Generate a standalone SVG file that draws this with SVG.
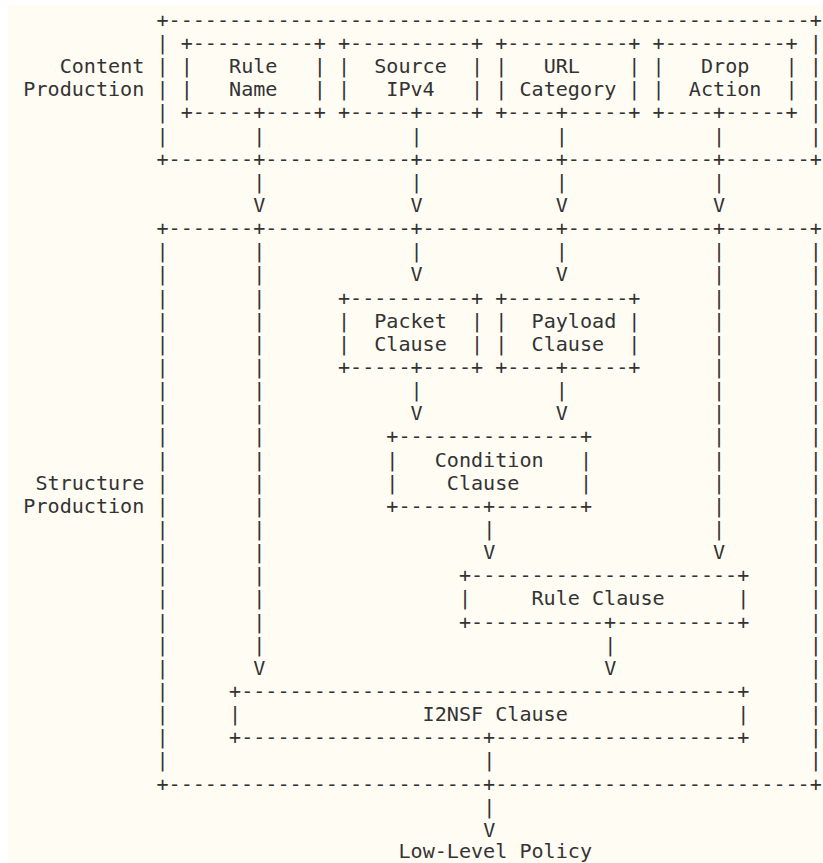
<svg xmlns="http://www.w3.org/2000/svg" width="823" height="863" viewBox="0 0 823 863" xml:space="preserve">
  <style>
    .t { font-family: "DejaVu Sans Mono", monospace; font-size: 20.1px; fill: #333333; white-space: pre; }
  </style>
  <!-- page background -->
  <rect x="0" y="0" width="823" height="863" fill="#ffffff"/>
  <rect x="8" y="5" width="815" height="858" fill="#fffcf4"/>

  <!-- Content production frame -->
  <g id="content-production">
    <text class="t" x="59.65" y="73.18">Content</text>
    <text class="t" x="23.35" y="96.32">Production</text>
    <text class="t" x="156.45" y="26.9">+-----------------------------------------------------+</text>
    <text class="t" x="156.45" y="165.74">+-------+------------+-----------+------------+-------+</text>
    <text class="t"><tspan x="156.45" y="50.04">|</tspan><tspan x="156.45" y="73.18">|</tspan><tspan x="156.45" y="96.32">|</tspan><tspan x="156.45" y="119.46">|</tspan><tspan x="156.45" y="142.6">|</tspan></text>
    <text class="t"><tspan x="809.85" y="50.04">|</tspan><tspan x="809.85" y="73.18">|</tspan><tspan x="809.85" y="96.32">|</tspan><tspan x="809.85" y="119.46">|</tspan><tspan x="809.85" y="142.6">|</tspan></text>
  </g>

  <g id="rule-name">
    <text class="t" x="180.65" y="50.04">+----------+</text>
    <text class="t" x="180.65" y="73.18">|   Rule   |</text>
    <text class="t" x="180.65" y="96.32">|   Name   |</text>
    <text class="t" x="180.65" y="119.46">+-----+----+</text>
  </g>

  <g id="source-ipv4">
    <text class="t" x="337.95" y="50.04">+----------+</text>
    <text class="t" x="337.95" y="73.18">|  Source  |</text>
    <text class="t" x="337.95" y="96.32">|   IPv4   |</text>
    <text class="t" x="337.95" y="119.46">+-----+----+</text>
  </g>

  <g id="url-category">
    <text class="t" x="495.25" y="50.04">+----------+</text>
    <text class="t" x="495.25" y="73.18">|   URL    |</text>
    <text class="t" x="495.25" y="96.32">| Category |</text>
    <text class="t" x="495.25" y="119.46">+----+-----+</text>
  </g>

  <g id="drop-action">
    <text class="t" x="652.55" y="50.04">+----------+</text>
    <text class="t" x="652.55" y="73.18">|   Drop   |</text>
    <text class="t" x="652.55" y="96.32">|  Action  |</text>
    <text class="t" x="652.55" y="119.46">+----+-----+</text>
  </g>

  <!-- Structure production frame -->
  <g id="structure-production">
    <text class="t" x="35.45" y="489.7">Structure</text>
    <text class="t" x="23.35" y="512.84">Production</text>
    <text class="t" x="156.45" y="235.16">+-------+------------+-----------+------------+-------+</text>
    <text class="t" x="156.45" y="790.52">+--------------------------+--------------------------+</text>
    <text class="t"><tspan x="156.45" y="258.3">|</tspan><tspan x="156.45" y="281.44">|</tspan><tspan x="156.45" y="304.58">|</tspan><tspan x="156.45" y="327.72">|</tspan><tspan x="156.45" y="350.86">|</tspan><tspan x="156.45" y="374">|</tspan><tspan x="156.45" y="397.14">|</tspan><tspan x="156.45" y="420.28">|</tspan><tspan x="156.45" y="443.42">|</tspan><tspan x="156.45" y="466.56">|</tspan><tspan x="156.45" y="489.7">|</tspan><tspan x="156.45" y="512.84">|</tspan><tspan x="156.45" y="535.98">|</tspan><tspan x="156.45" y="559.12">|</tspan><tspan x="156.45" y="582.26">|</tspan><tspan x="156.45" y="605.4">|</tspan><tspan x="156.45" y="628.54">|</tspan><tspan x="156.45" y="651.68">|</tspan><tspan x="156.45" y="674.82">|</tspan><tspan x="156.45" y="697.96">|</tspan><tspan x="156.45" y="721.1">|</tspan><tspan x="156.45" y="744.24">|</tspan><tspan x="156.45" y="767.38">|</tspan></text>
    <text class="t"><tspan x="809.85" y="258.3">|</tspan><tspan x="809.85" y="281.44">|</tspan><tspan x="809.85" y="304.58">|</tspan><tspan x="809.85" y="327.72">|</tspan><tspan x="809.85" y="350.86">|</tspan><tspan x="809.85" y="374">|</tspan><tspan x="809.85" y="397.14">|</tspan><tspan x="809.85" y="420.28">|</tspan><tspan x="809.85" y="443.42">|</tspan><tspan x="809.85" y="466.56">|</tspan><tspan x="809.85" y="489.7">|</tspan><tspan x="809.85" y="512.84">|</tspan><tspan x="809.85" y="535.98">|</tspan><tspan x="809.85" y="559.12">|</tspan><tspan x="809.85" y="582.26">|</tspan><tspan x="809.85" y="605.4">|</tspan><tspan x="809.85" y="628.54">|</tspan><tspan x="809.85" y="651.68">|</tspan><tspan x="809.85" y="674.82">|</tspan><tspan x="809.85" y="697.96">|</tspan><tspan x="809.85" y="721.1">|</tspan><tspan x="809.85" y="744.24">|</tspan><tspan x="809.85" y="767.38">|</tspan></text>
  </g>

  <g id="packet-clause">
    <text class="t" x="337.95" y="304.58">+----------+</text>
    <text class="t" x="337.95" y="327.72">|  Packet  |</text>
    <text class="t" x="337.95" y="350.86">|  Clause  |</text>
    <text class="t" x="337.95" y="374">+-----+----+</text>
  </g>

  <g id="payload-clause">
    <text class="t" x="495.25" y="304.58">+----------+</text>
    <text class="t" x="495.25" y="327.72">|  Payload |</text>
    <text class="t" x="495.25" y="350.86">|  Clause  |</text>
    <text class="t" x="495.25" y="374">+----+-----+</text>
  </g>

  <g id="condition-clause">
    <text class="t" x="386.35" y="443.42">+---------------+</text>
    <text class="t" x="386.35" y="466.56">|   Condition   |</text>
    <text class="t" x="386.35" y="489.7">|    Clause     |</text>
    <text class="t" x="386.35" y="512.84">+-------+-------+</text>
  </g>

  <g id="rule-clause">
    <text class="t" x="458.95" y="582.26">+----------------------+</text>
    <text class="t" x="458.95" y="605.4">|     Rule Clause      |</text>
    <text class="t" x="458.95" y="628.54">+-----------+----------+</text>
  </g>

  <g id="i2nsf-clause">
    <text class="t" x="229.05" y="697.96">+-----------------------------------------+</text>
    <text class="t" x="229.05" y="721.1">|               I2NSF Clause              |</text>
    <text class="t" x="229.05" y="744.24">+--------------------+--------------------+</text>
  </g>

  <g id="low-level-policy">
    <text class="t" x="398.45" y="857.6">Low-Level Policy</text>
  </g>

  <!-- flow lines with arrow heads -->
  <g id="connectors">
    <text class="t"><tspan x="253.25" y="142.6">|</tspan><tspan x="253.25" y="188.88">|</tspan><tspan x="253.25" y="212.02">V</tspan><tspan x="253.25" y="258.3">|</tspan><tspan x="253.25" y="281.44">|</tspan><tspan x="253.25" y="304.58">|</tspan><tspan x="253.25" y="327.72">|</tspan><tspan x="253.25" y="350.86">|</tspan><tspan x="253.25" y="374">|</tspan><tspan x="253.25" y="397.14">|</tspan><tspan x="253.25" y="420.28">|</tspan><tspan x="253.25" y="443.42">|</tspan><tspan x="253.25" y="466.56">|</tspan><tspan x="253.25" y="489.7">|</tspan><tspan x="253.25" y="512.84">|</tspan><tspan x="253.25" y="535.98">|</tspan><tspan x="253.25" y="559.12">|</tspan><tspan x="253.25" y="582.26">|</tspan><tspan x="253.25" y="605.4">|</tspan><tspan x="253.25" y="628.54">|</tspan><tspan x="253.25" y="651.68">|</tspan><tspan x="253.25" y="674.82">V</tspan></text>
    <text class="t"><tspan x="410.55" y="142.6">|</tspan><tspan x="410.55" y="188.88">|</tspan><tspan x="410.55" y="212.02">V</tspan><tspan x="410.55" y="258.3">|</tspan><tspan x="410.55" y="281.44">V</tspan></text>
    <text class="t"><tspan x="555.75" y="142.6">|</tspan><tspan x="555.75" y="188.88">|</tspan><tspan x="555.75" y="212.02">V</tspan><tspan x="555.75" y="258.3">|</tspan><tspan x="555.75" y="281.44">V</tspan></text>
    <text class="t"><tspan x="713.05" y="142.6">|</tspan><tspan x="713.05" y="188.88">|</tspan><tspan x="713.05" y="212.02">V</tspan><tspan x="713.05" y="258.3">|</tspan><tspan x="713.05" y="281.44">|</tspan><tspan x="713.05" y="304.58">|</tspan><tspan x="713.05" y="327.72">|</tspan><tspan x="713.05" y="350.86">|</tspan><tspan x="713.05" y="374">|</tspan><tspan x="713.05" y="397.14">|</tspan><tspan x="713.05" y="420.28">|</tspan><tspan x="713.05" y="443.42">|</tspan><tspan x="713.05" y="466.56">|</tspan><tspan x="713.05" y="489.7">|</tspan><tspan x="713.05" y="512.84">|</tspan><tspan x="713.05" y="535.98">|</tspan><tspan x="713.05" y="559.12">V</tspan></text>
    <text class="t"><tspan x="410.55" y="397.14">|</tspan><tspan x="410.55" y="420.28">V</tspan></text>
    <text class="t"><tspan x="555.75" y="397.14">|</tspan><tspan x="555.75" y="420.28">V</tspan></text>
    <text class="t"><tspan x="483.15" y="535.98">|</tspan><tspan x="483.15" y="559.12">V</tspan></text>
    <text class="t"><tspan x="604.15" y="651.68">|</tspan><tspan x="604.15" y="674.82">V</tspan></text>
    <text class="t"><tspan x="483.15" y="767.38">|</tspan></text>
    <text class="t"><tspan x="483.15" y="813.66">|</tspan><tspan x="483.15" y="836.8">V</tspan></text>
  </g>
</svg>
